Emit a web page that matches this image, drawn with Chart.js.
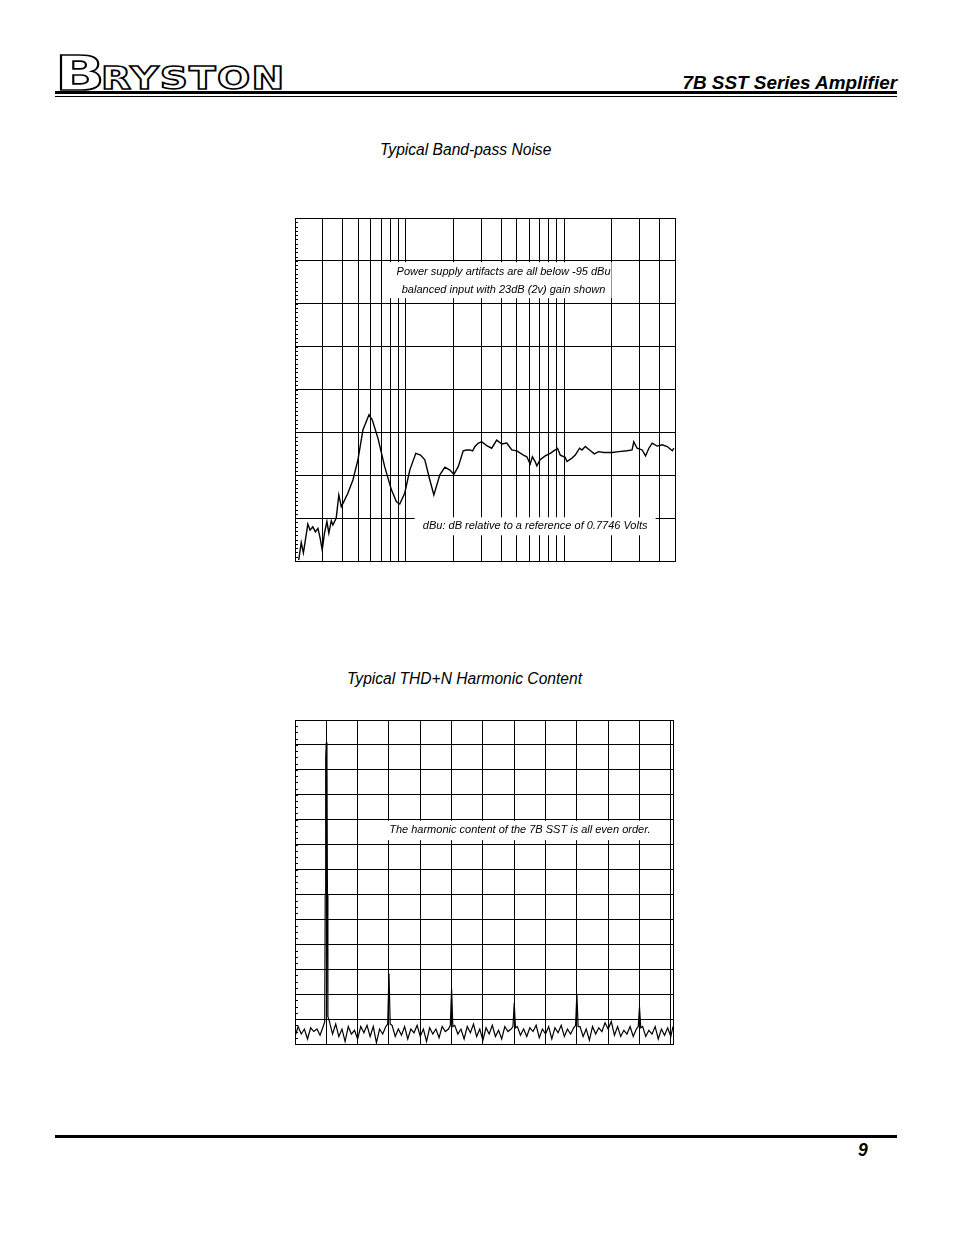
<!DOCTYPE html>
<html>
<head>
<meta charset="utf-8">
<script src="https://cdn.jsdelivr.net/npm/chart.js@4.4.0/dist/chart.umd.min.js"></script>
<style>
  html, body { margin: 0; padding: 0; background: #fff; }
  body { width: 954px; height: 1235px; position: relative; overflow: hidden; font-family: "Liberation Sans", Arial, sans-serif; }
  .abs { position: absolute; }
  .logo { font-family: "DejaVu Sans", sans-serif; font-weight: bold; color: #fff; line-height: 1;
          -webkit-text-stroke: 1.6px #000; white-space: nowrap; transform-origin: left top; }
  .rule { left: 55px; width: 842px; background: #000; }
  .head { right: 57px; top: 72px; font-size: 18.9px; font-weight: bold; font-style: italic; }
  .pageno { left: 858px; top: 1140px; font-size: 17.5px; font-weight: bold; font-style: italic; }
  .title { font-size: 15.6px; font-style: italic; white-space: nowrap; }
</style>
</head>
<body>
<div class="abs logo" style="left:55px;top:49px;font-size:48px;height:48px;transform:scaleX(1.36);">B</div>
<div class="abs logo" style="left:101px;top:63px;font-size:31.5px;height:32px;letter-spacing:1px;transform:scaleX(1.24);">RYSTON</div>
<div class="abs rule" style="top:91px;height:3px;"></div>
<div class="abs rule" style="top:96px;height:1px;"></div>
<div class="abs head">7B SST Series Amplifier</div>
<div class="abs rule" style="top:1135px;height:3px;"></div>
<div class="abs pageno">9</div>

<div class="abs title" style="left:380px;top:141px;">Typical Band-pass Noise</div>
<div class="abs title" style="left:347px;top:670px;">Typical THD+N Harmonic Content</div>

<canvas id="noise" class="abs" width="384" height="347" style="left:295px;top:218px;"></canvas>
<canvas id="thd" class="abs" width="382" height="328" style="left:295px;top:720px;"></canvas>

<script>
// === Band-pass noise (frequency in Hz, level in dBu) ===
const noiseHz = [21.1, 21.9, 22.6, 24.1, 24.9, 25.9, 26.9, 27.9, 28.8, 29.7,
  30.7, 31.8, 32.7, 33.9, 34.7, 36.4, 37.8, 39.2, 41.1, 43.1,
  46.4, 49.9, 53.7, 58.6, 61.5, 66.8, 73.6, 81.2, 87.3, 91.6,
  98.5, 106, 115.7, 123.9, 131.9, 141.9, 150.4, 164.1, 176.6, 189.9,
  201.3, 214.3, 230.5, 242.2, 254.1, 264.3, 273.5, 287, 301.3, 324.2,
  348.6, 375, 403.4, 433.9, 466.7, 502, 552.7, 580.8, 609.5, 630,
  655, 671.6, 704.7, 758.6, 815, 877, 907, 944, 1014, 1040,
  1119, 1174, 1250, 1294, 1358, 1445, 1549, 1648, 1774, 2004,
  2207, 2494, 2680, 2747, 2884, 3104, 3258, 3420, 3590, 3860,
  4150, 4467, 4808, 4920];
const noiseDbu = [-139.8, -135.7, -138.1, -131.4, -132.8, -132.0, -133.2, -132.4, -134.6, -137.4,
  -133.5, -130.8, -133.5, -130.6, -131.6, -130.0, -124.6, -127.3, -125.8, -124.2,
  -121.1, -116.4, -109.4, -105.9, -107.1, -111.4, -118.0, -123.4, -126.2, -126.7,
  -124.2, -118.8, -114.9, -115.3, -116.4, -121.1, -124.6, -119.9, -118.1, -118.8,
  -119.8, -118.0, -114.3, -114.1, -114.1, -114.3, -113.3, -112.5, -112.2, -113.1,
  -113.7, -111.8, -112.7, -112.5, -114.1, -114.3, -115.3, -115.7, -117.4, -115.7,
  -116.8, -117.8, -116.4, -115.5, -114.9, -114.1, -113.7, -115.3, -115.8, -116.8,
  -116.0, -115.3, -113.7, -114.1, -113.3, -114.1, -115.0, -114.5, -114.7, -114.7,
  -114.5, -114.3, -114.1, -112.2, -113.7, -114.1, -115.5, -113.7, -112.5, -113.2,
  -112.9, -113.3, -114.3, -113.7];
const noiseGridHz = [20, 30, 40, 50, 60, 70, 80, 90, 100, 200, 300, 400, 500, 600, 700, 800, 900,
  1000, 2000, 3000, 4000, 5000];

// === THD+N spectrum (frequency in kHz, level in dB) ===
const thdKHz = [0.0, 0.1, 0.2, 0.3, 0.4, 0.5, 0.6, 0.7, 0.8, 0.9, 0.95, 0.965, 0.98, 1.0, 1.02, 1.035, 1.05,
  1.1, 1.2, 1.3, 1.4, 1.5, 1.6, 1.7, 1.8, 1.9, 2.0, 2.1, 2.2, 2.3, 2.4, 2.5, 2.6, 2.7, 2.8, 2.9, 2.96, 3.0, 3.04,
  3.1, 3.2, 3.3, 3.4, 3.5, 3.6, 3.7, 3.8, 3.9, 4.0, 4.1, 4.2, 4.3, 4.4, 4.5, 4.6, 4.7, 4.8, 4.9, 4.96, 5.0, 5.04,
  5.1, 5.2, 5.3, 5.4, 5.5, 5.6, 5.7, 5.8, 5.9, 6.0, 6.1, 6.2, 6.3, 6.4, 6.5, 6.6, 6.7, 6.8, 6.9, 6.96, 7.0, 7.04,
  7.1, 7.2, 7.3, 7.4, 7.5, 7.6, 7.7, 7.8, 7.9, 8.0, 8.1, 8.2, 8.3, 8.4, 8.5, 8.6, 8.7, 8.8, 8.9, 8.96, 9.0, 9.04,
  9.1, 9.2, 9.3, 9.4, 9.5, 9.6, 9.7, 9.8, 9.9, 10.0, 10.1, 10.2, 10.3, 10.4, 10.5, 10.6, 10.7, 10.8, 10.9, 10.96, 11.0, 11.04,
  11.1, 11.2, 11.3, 11.4, 11.5, 11.6, 11.7, 11.8, 11.9, 12.0, 12.07];
const thdDb = [-117, -113, -116, -114, -118, -113.5, -115, -114, -116.5, -113, -111, -60, -5, 1, -5, -60, -109,
  -111, -116, -112, -117, -114, -119, -113, -116, -114.5, -118, -113, -115.5, -112.5, -117, -113, -119.5, -114, -116, -113, -112, -91.7, -112,
  -112.5, -117, -114, -116.5, -113, -118, -114, -115.5, -112.5, -117, -114, -119, -113.5, -116, -114, -117.5, -113, -115, -114, -112.5, -97.8, -113,
  -112.5, -116, -114, -118, -113, -115.5, -112, -117, -114, -118.5, -113.5, -116, -112.5, -117, -114.5, -118, -113, -115, -114, -113, -103.6, -113.5,
  -113, -116.5, -114, -117, -113.5, -115, -112.5, -117.5, -114, -116, -113, -118, -113.5, -115.5, -112.5, -117, -114, -116, -113.5, -112.5, -99.8, -113,
  -113, -117, -114, -118.5, -113, -116, -113.5, -115, -111.5, -114, -111, -116.5, -113, -117, -114.5, -116, -113, -117, -114, -113, -105.2, -113.5,
  -113, -117, -114.5, -116, -113, -118, -114, -116.5, -113.5, -117, -113];
const thdGridKHz = [0, 1, 2, 3, 4, 5, 6, 7, 8, 9, 10, 11, 12, 12.07];

const noteFont = 'italic 11px "Liberation Sans", Arial, sans-serif';

const minorTicks = {
  id: 'minorTicks',
  afterDraw(chart, args, opts) {
    const y = chart.scales.y, ctx = chart.ctx, left = chart.chartArea.left;
    ctx.save();
    ctx.strokeStyle = '#000';
    ctx.lineWidth = 1;
    ctx.beginPath();
    for (let v = y.min; v <= y.max + 1e-6; v += opts.step) {
      const py = Math.round(y.getPixelForValue(v)) + 0.5;
      ctx.moveTo(left, py);
      ctx.lineTo(left + opts.len, py);
    }
    ctx.stroke();
    ctx.restore();
  }
};

const noteBoxes = {
  id: 'noteBoxes',
  beforeDatasetsDraw(chart, args, opts) {
    const { x, y } = chart.scales, ctx = chart.ctx;
    ctx.save();
    opts.boxes.forEach(b => {
      const x0 = x.getPixelForValue(b.x0), x1 = x.getPixelForValue(b.x1);
      const y0 = y.getPixelForValue(b.y0), y1 = y.getPixelForValue(b.y1);
      ctx.fillStyle = '#fff';
      ctx.fillRect(x0, y0, x1 - x0, y1 - y0);
      ctx.fillStyle = '#000';
      ctx.font = noteFont;
      ctx.textAlign = 'center';
      ctx.textBaseline = 'middle';
      const cx = (x0 + x1) / 2 + (b.dx || 0);
      const lh = (y1 - y0) / b.lines.length;
      b.lines.forEach((t, i) => ctx.fillText(t, cx, y0 + lh * (i + 0.5) + (b.dy || 0)));
    });
    ctx.restore();
  }
};

function axisStyle() {
  return {
    ticks: { display: false },
    grid: { color: '#000', lineWidth: 1, drawTicks: false },
    border: { display: true, color: '#000', width: 1 }
  };
}

new Chart(document.getElementById('noise'), {
  type: 'line',
  data: {
    datasets: [{
      data: noiseHz.map((f, i) => ({ x: f, y: noiseDbu[i] })),
      borderColor: '#000',
      borderWidth: 1.4,
      pointRadius: 0,
      tension: 0
    }]
  },
  options: {
    responsive: false,
    animation: false,
    layout: { padding: { right: 4, bottom: 4 } },
    plugins: {
      legend: { display: false },
      tooltip: { enabled: false },
      minorTicks: { step: 1, len: 3 },
      noteBoxes: {
        boxes: [
          { x0: 79, x1: 1990, y0: -70.3, y1: -78.7, dx: 3, dy: 0.5,
            lines: ['Power supply artifacts are all below -95 dBu', 'balanced input with 23dB (2v) gain shown'] },
          { x0: 114, x1: 3770, y0: -129.8, y1: -134,
            lines: ['dBu: dB relative to a reference of 0.7746 Volts'] }
        ]
      }
    },
    scales: {
      x: Object.assign(axisStyle(), {
        type: 'logarithmic', min: 20, max: 5000,
        afterBuildTicks: axis => { axis.ticks = noiseGridHz.map(v => ({ value: v })); }
      }),
      y: Object.assign(axisStyle(), { type: 'linear', min: -140, max: -60 })
    }
  },
  plugins: [noteBoxes, minorTicks]
});

new Chart(document.getElementById('thd'), {
  type: 'line',
  data: {
    datasets: [{
      data: thdKHz.map((f, i) => ({ x: f, y: thdDb[i] })),
      borderColor: '#000',
      borderWidth: 1.2,
      pointRadius: 0,
      tension: 0
    }]
  },
  options: {
    responsive: false,
    animation: false,
    layout: { padding: { right: 4, bottom: 4 } },
    plugins: {
      legend: { display: false },
      tooltip: { enabled: false },
      minorTicks: { step: 2.5, len: 3 },
      noteBoxes: {
        boxes: [
          { x0: 2.97, x1: 11.9, y0: -30.4, y1: -38.2, dx: -8,
            lines: ['The harmonic content of the 7B SST is all even order.'] }
        ]
      }
    },
    scales: {
      x: Object.assign(axisStyle(), {
        type: 'linear', min: 0, max: 12.07,
        afterBuildTicks: axis => { axis.ticks = thdGridKHz.map(v => ({ value: v })); }
      }),
      y: Object.assign(axisStyle(), { type: 'linear', min: -120, max: 10, ticks: { display: false, stepSize: 10 } })
    }
  },
  plugins: [noteBoxes, minorTicks]
});
</script>
</body>
</html>
